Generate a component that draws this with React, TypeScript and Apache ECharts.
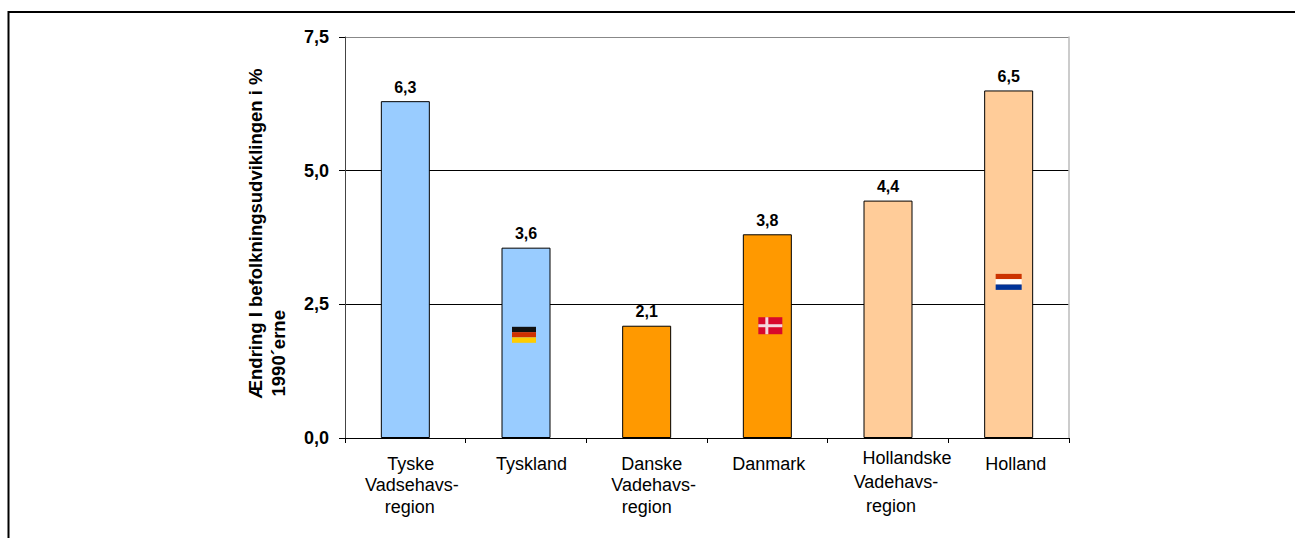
import React, { useEffect, useRef } from "react";
import * as echarts from "echarts";

const categories = ["Tyske Vadsehavs-region", "Tyskland", "Danske Vadehavs-region", "Danmark", "Hollandske Vadehavs-region", "Holland"];
const labelLines = [
  ["Tyske", "Vadsehavs-", "region"],
  ["Tyskland"],
  ["Danske", "Vadehavs-", "region"],
  ["Danmark"],
  ["Hollandske", "Vadehavs-", "region"],
  ["Holland"],
];
const values = [6.3, 3.6, 2.1, 3.8, 4.4, 6.5];
const plotted = [6.3, 3.56, 2.1, 3.81, 4.44, 6.5];
const barColors = ["#99CCFF", "#99CCFF", "#FF9900", "#FF9900", "#FFCC99", "#FFCC99"];
const yTicks = [0, 2.5, 5, 7.5];
const yTitleLine1 = "Ændring I befolkningsudviklingen i %";
const yTitleLine2 = "1990´erne";
const flagCategories = [1, 3, 5];
const flagValues = [1.93, 2.1, 2.92];
const flagKinds = ["de", "dk", "nl"];

function comma(v: number) {
  return v.toFixed(1).replace(".", ",");
}

export default function App() {
  const ref = useRef<HTMLDivElement>(null);
  useEffect(() => {
    const chart = echarts.init(ref.current!, undefined, { renderer: "svg" });
    const font = "Liberation Sans, Arial, sans-serif";
    const lineShift = [[11, 13, 9], [11], [10, 14, 0], [3], [38, 16, 6], [14]];
    const rich: Record<string, any> = {};
    lineShift.forEach((shifts, i) => {
      shifts.forEach((o, j) => {
        const top = i !== 4 && j === 0 ? 12 : 0;
        const lh = i === 4 ? [22, 25, 24][j] : [22, 32, 12][j];
        rich[`c${i}l${j}`] = {
          fontFamily: font, fontSize: 18, color: "#000", lineHeight: lh,
          padding: [top, 0, 0, o],
        };
      });
    });
    chart.setOption({
      animation: false,
      backgroundColor: "#fff",
      graphic: [
        {
          type: "polyline",
          silent: true,
          shape: { points: [[8.5, 538], [8.5, 12], [1295, 12]] },
          style: { stroke: "#000", lineWidth: 2, fill: "none" },
        },
      ],
      grid: { left: 345, right: 226, top: 37, bottom: 100, show: false },
      xAxis: {
        type: "category",
        data: categories,
        axisLine: { show: true, lineStyle: { color: "#000", width: 1 } },
        axisTick: { show: true, length: 5, alignWithLabel: false, lineStyle: { color: "#000" } },
        splitLine: { show: false },
        axisLabel: {
          interval: 0,
          margin: 9,
          verticalAlign: "top",
          formatter: (_: string, i: number) => labelLines[i].map((s, j) => `{c${i}l${j}|${s}}`).join("\n"),
          rich,
        },
      },
      yAxis: [
        {
          type: "value",
          min: yTicks[0],
          max: yTicks[3],
          interval: 2.5,
          name: `{a|${yTitleLine1}}\n{b|${yTitleLine2}}`,
          nameLocation: "middle",
          nameGap: 55,
          nameRotate: 90,
          nameMoveOverlap: false,
          nameTextStyle: {
            rich: {
              a: { fontFamily: font, fontSize: 18.5, fontWeight: "bold", color: "#000", lineHeight: 23, align: "left", padding: [0, 0, 0, 8] },
              b: { fontFamily: font, fontSize: 18.5, fontWeight: "bold", color: "#000", lineHeight: 23, align: "left", padding: [0, 0, 0, 10] },
            },
          },
          axisLine: { show: true, lineStyle: { color: "#444", width: 1 } },
          axisTick: { show: true, length: 6, lineStyle: { color: "#000" } },
          axisLabel: { formatter: (v: number) => comma(v), fontFamily: font, fontSize: 18, fontWeight: "bold", color: "#000", margin: 16, padding: [2, 0, 0, 0] },
          splitLine: {
            show: true,
            lineStyle: { color: "#000", width: 1 },
          },
        },
        {
          type: "value",
          min: 0,
          max: 7.5,
          interval: 7.5,
          position: "right",
          axisLine: { show: true, lineStyle: { color: "#bbb", width: 1.5 } },
          axisTick: { show: false },
          axisLabel: { show: false },
          splitLine: { show: true, lineStyle: { color: "#888", width: 1 } },
        },
      ],
      series: [
        {
          type: "bar",
          barWidth: 49,
          data: plotted.map((v, i) => ({
            value: v,
            label: { formatter: comma(values[i]) },
            itemStyle: { color: barColors[i], borderColor: "#000", borderWidth: 1 },
          })),
          label: {
            show: true,
            position: "top",
            distance: 6,
            fontFamily: font,
            fontSize: 16,
            fontWeight: "bold",
            color: "#000",
          },
        },
        {
          type: "custom",
          z: 5,
          silent: true,
          data: flagCategories.map((c, i) => [c, flagValues[i]]),
          encode: { x: 0, y: 1 },
          renderItem: (params: any, api: any) => {
            const c = api.coord([api.value(0), api.value(1)]);
            const kind = flagKinds[params.dataIndex];
            const r = (rx: number, ry: number, rw: number, rh: number, fill: string) => ({
              type: "rect", shape: { x: rx, y: ry, width: rw, height: rh }, style: { fill },
            });
            const cx = c[0], cy = c[1];
            let children: any[] = [];
            if (kind === "de") {
              const x = cx - 14, y = cy - 8;
              children = [r(x, y, 24, 5.3, "#111"), r(x, y + 5.3, 24, 5.3, "#D03000"), r(x, y + 10.6, 24, 5.4, "#FFCC00")];
            } else if (kind === "dk") {
              const x = cx - 9, y = cy - 8.5;
              children = [r(x, y, 24, 17, "#D8082C"), r(x, y + 7, 24, 3, "#F4D8DC"), r(x + 7, y, 3, 17, "#F4D8DC")];
            } else {
              const x = cx - 13, y = cy - 8;
              children = [r(x, y, 26, 5.3, "#CC3300"), r(x, y + 5.3, 26, 5.3, "#FFFFFF"), r(x, y + 10.6, 26, 5.4, "#003399")];
            }
            return { type: "group", children };
          },
        },
      ],
    });
    return () => chart.dispose();
  }, []);
  return <div ref={ref} style={{ position: "fixed", left: 0, top: 0, width: 1295, height: 538 }} />;
}
